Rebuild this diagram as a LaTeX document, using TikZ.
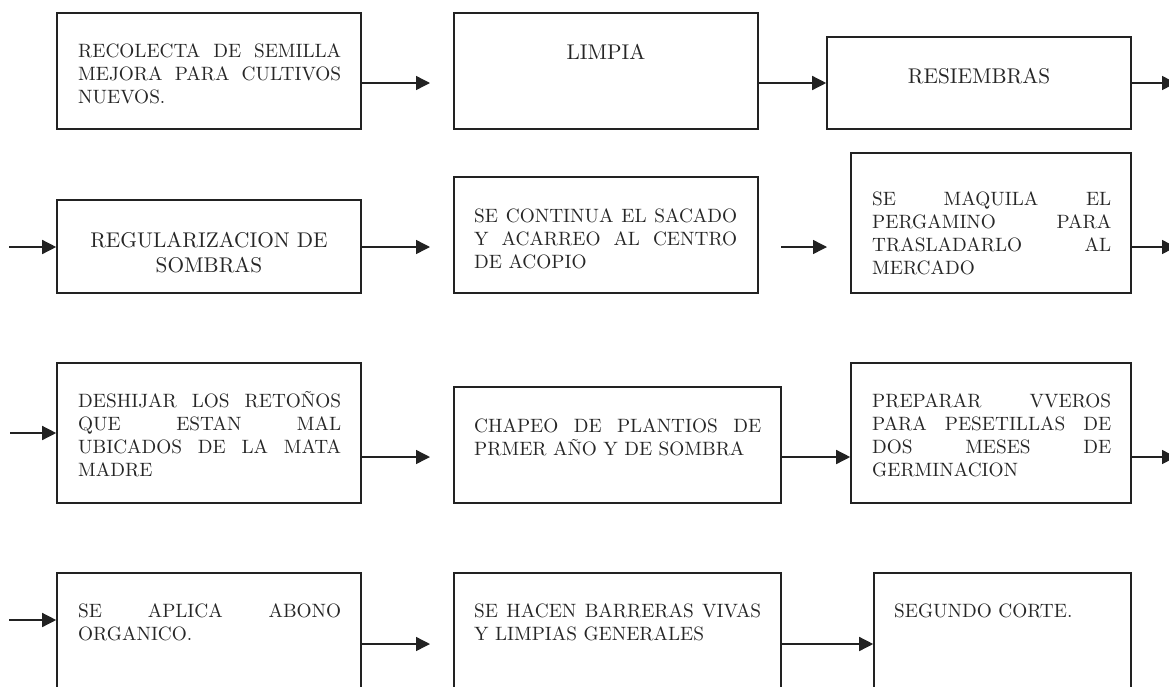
\documentclass[tikz,border=0pt]{standalone}
\usepackage{fontspec}
\setmainfont{lmroman10-regular}[Extension=.otf]
\usetikzlibrary{arrows.meta,calc}
\definecolor{linegray}{HTML}{222222}
\definecolor{textgray}{HTML}{262626}
\newcommand\jline[2]{\makebox[#1][s]{#2}}
\tikzset{
  boxnode/.style={draw=linegray, line width=1.6pt, inner sep=0pt, rectangle},
  txt/.style={inner sep=0pt, anchor=base west, text=textgray, align=left,
              font=\fontsize{19.3}{23}\selectfont},
  bigtxt/.style={inner sep=0pt, anchor=base, text=textgray, align=center,
              font=\fontsize{21.3}{25}\selectfont},
  arr/.style={draw=linegray, line width=1.4pt, -{Triangle[length=14pt,width=14pt]}}
}
\begin{document}
\begin{tikzpicture}[x=1pt,y=-1pt]
\useasboundingbox (0,0) rectangle (1169,686);
\clip (0,0) rectangle (1169,686);
\fill[white] (0,0) rectangle (1169,686);

% ---------- boxes ----------
\node[boxnode, minimum width=304pt, minimum height=116pt] (b1) at (209,71) {};
\node[boxnode, minimum width=304pt, minimum height=116pt] (b2) at (606,71) {};
\node[boxnode, minimum width=304pt, minimum height=92pt]  (b3) at (979,83) {};
\node[boxnode, minimum width=304pt, minimum height=93pt]  (b4) at (209,246.5) {};
\node[boxnode, minimum width=304pt, minimum height=116pt] (b5) at (606,235) {};
\node[boxnode, minimum width=280pt, minimum height=140pt] (b6) at (991,223) {};
\node[boxnode, minimum width=304pt, minimum height=140pt] (b7) at (209,433) {};
\node[boxnode, minimum width=327pt, minimum height=116pt] (b8) at (617.5,445) {};
\node[boxnode, minimum width=280pt, minimum height=140pt] (b9) at (991,433) {};
\node[boxnode, minimum width=304pt, minimum height=142pt] (b10) at (209,644) {};
\node[boxnode, minimum width=327pt, minimum height=142pt] (b11) at (617.5,644) {};
\node[boxnode, minimum width=257pt, minimum height=142pt] (b12) at (1002.5,644) {};

% ---------- texts ----------
\node[txt, text width=263pt] (t1) at (78,57)
  {\jline{263pt}{RECOLECTA\hfill DE\hfill SEMILLA}\\
   \jline{263pt}{MEJORA\hfill PARA\hfill CULTIVOS}\\NUEVOS.};
\node[bigtxt] (t2) at (606,59) {LIMPIA};
\node[bigtxt] (t3) at (979,83) {RESIEMBRAS};
\node[bigtxt, text width=263pt] (t4) at (209,247) {REGULARIZACION DE\\SOMBRAS};
\node[txt, text width=263pt] (t5) at (474,222)
  {\jline{263pt}{SE\hfill CONTINUA\hfill EL\hfill SACADO}\\
   \jline{263pt}{Y\hfill ACARREO\hfill AL\hfill CENTRO}\\DE ACOPIO};
\node[txt, text width=239pt] (t6) at (872,205)
  {\jline{239pt}{SE\hfill MAQUILA\hfill EL}\\
   \jline{239pt}{PERGAMINO\hfill PARA}\\
   \jline{239pt}{TRASLADARLO\hfill AL}\\MERCADO};
\node[txt, text width=263pt] (t7) at (78,407)
  {\jline{263pt}{DESHIJAR\hfill LOS\hfill RETOÑOS}\\
   \jline{263pt}{QUE\hfill ESTAN\hfill MAL}\\
   \jline{263pt}{UBICADOS\hfill DE\hfill LA\hfill MATA}\\MADRE};
\node[txt, text width=287pt] (t8) at (474,432)
  {\jline{287pt}{CHAPEO\hfill DE\hfill PLANTIOS\hfill DE}\\PRMER AÑO Y DE SOMBRA};
\node[txt, text width=239pt] (t9) at (872,407)
  {\jline{239pt}{PREPARAR\hfill VVEROS}\\
   \jline{239pt}{PARA\hfill PESETILLAS\hfill DE}\\
   \jline{239pt}{DOS\hfill MESES\hfill DE}\\GERMINACION};
\node[txt, text width=263pt] (t10) at (78,617)
  {\jline{263pt}{SE\hfill APLICA\hfill ABONO}\\ORGANICO.};
\node[txt, text width=287pt] (t11) at (474,617)
  {\jline{287pt}{SE\hfill HACEN\hfill BARRERAS\hfill VIVAS}\\Y LIMPIAS GENERALES};
\node[txt] (t12) at (894,617) {SEGUNDO CORTE.};

% ---------- free connector ends ----------
\coordinate (e1) at (430,83);
\coordinate (e3) at (1176,83);
\coordinate (s4) at (9,247);
\coordinate (e5) at (430,247);
\coordinate (s6) at (781,247);
\coordinate (e6) at (827,247);
\coordinate (e7) at (1176,247);
\coordinate (s8) at (10,433);
\coordinate (e9) at (430,457);
\coordinate (y10) at (0,457);
\coordinate (e11) at (1176,457);
\coordinate (s12) at (9,620);
\coordinate (e13) at (430,644);

% ---------- connectors ----------
\draw[arr] (b1.east |- e1) -- (e1);
\draw[arr] (b2.east |- b3.west) -- (b3.west);
\draw[arr] (b3.east) -- (e3);
\draw[arr] (s4) -- (b4.west |- s4);
\draw[arr] (b4.east |- e5) -- (e5);
\draw[arr] (s6) -- (e6);
\draw[arr] (b6.east |- e7) -- (e7);
\draw[arr] (s8) -- (b7.west);
\draw[arr] (b7.east |- e9) -- (e9);
\draw[arr] (b8.east |- y10) -- (b9.west |- y10);
\draw[arr] (b9.east |- e11) -- (e11);
\draw[arr] (s12) -- (b10.west |- s12);
\draw[arr] (b10.east |- e13) -- (e13);
\draw[arr] (b11.east |- b12.west) -- (b12.west);
\end{tikzpicture}
\end{document}
